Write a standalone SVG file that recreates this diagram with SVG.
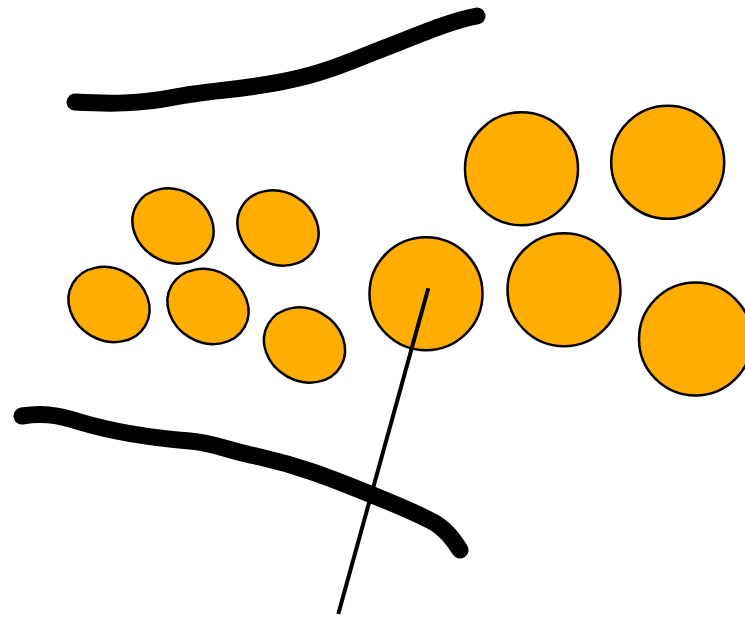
<svg xmlns="http://www.w3.org/2000/svg" width="745" height="621" viewBox="0 0 745 621">
<style>
.c{fill:#ffad00;stroke:#000;stroke-width:2.5}
.w{fill:none;stroke:#000;stroke-width:17;stroke-linecap:round;stroke-linejoin:round}
.l{fill:none;stroke:#000;stroke-width:4}
</style>
<rect width="745" height="621" fill="#fff"/>
<path class="w" d="M75,102 C110,104 140,104 175,97 C210,90 245,90 290,80 C330,72 360,57 395,44 C430,30 455,20 477,16"/>
<path class="w" d="M22,416 C40,413 55,414 80,422 C110,431 140,437 190,441 C215,443 225,450 260,457 C300,466 330,478 360,490 C390,502 415,512 435,523 C448,531 455,542 460,550"/>
<g id="small">
<ellipse class="c" cx="173" cy="226" rx="42" ry="36" transform="rotate(30 173 226)"/>
<ellipse class="c" cx="278" cy="228" rx="42" ry="36" transform="rotate(30 278 228)"/>
<ellipse class="c" cx="109" cy="304.5" rx="42" ry="36" transform="rotate(30 109 304.5)"/>
<ellipse class="c" cx="208" cy="306.5" rx="42" ry="36" transform="rotate(30 208 306.5)"/>
<ellipse class="c" cx="304.5" cy="345" rx="42" ry="36" transform="rotate(30 304.5 345)"/>
</g>
<g id="large">
<circle class="c" cx="521.5" cy="168.7" r="56.5"/>
<circle class="c" cx="667.7" cy="162.3" r="56.5"/>
<circle class="c" cx="426" cy="293.7" r="56.5"/>
<circle class="c" cx="564" cy="289.7" r="56.5"/>
<circle class="c" cx="695.5" cy="339" r="56.5"/>
</g>
<line class="l" x1="428.3" y1="288.3" x2="338.3" y2="614"/>
</svg>
